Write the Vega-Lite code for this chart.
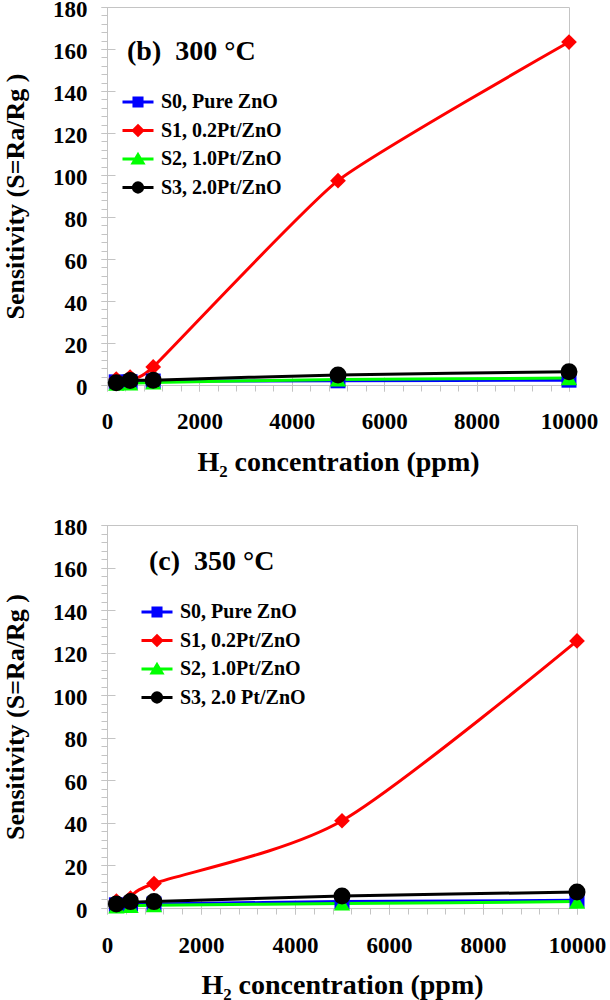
{
  "$schema": "https://vega.github.io/schema/vega-lite/v6.json",
  "padding": {"left": 2, "top": -3, "right": 0, "bottom": 0},
  "background": "white",
  "config": {
    "view": {"stroke": "#c4c4c4", "strokeWidth": 1},
    "font": "Liberation Serif",
    "axis": {
      "grid": false,
      "labelFont": "Liberation Serif",
      "labelFontSize": 23,
      "labelFontWeight": "bold",
      "labelColor": "black",
      "titleFont": "Liberation Serif",
      "titleFontWeight": "bold",
      "titleColor": "black",
      "domainColor": "#c4c4c4",
      "tickColor": "#c4c4c4",
      "labelFlush": false,
      "labelOverlap": false
    },
    "axisLeft": {"labelOffset": 2},
    "legend": {
      "orient": "none",
      "title": null,
      "labelFont": "Liberation Serif",
      "labelFontSize": 20,
      "labelFontWeight": "bold",
      "labelColor": "black",
      "labelLimit": 300,
      "labelOffset": 6,
      "symbolSize": 961,
      "symbolStrokeWidth": 3,
      "rowPadding": 0.5
    }
  },
  "datasets": {
    "b": [
      {"ppm": 200, "S": 1.5, "series": "S0, Pure ZnO"},
      {"ppm": 500, "S": 1.5, "series": "S0, Pure ZnO"},
      {"ppm": 1000, "S": 1.9, "series": "S0, Pure ZnO"},
      {"ppm": 5000, "S": 2.0, "series": "S0, Pure ZnO"},
      {"ppm": 10000, "S": 2.3, "series": "S0, Pure ZnO"},
      {"ppm": 200, "S": 2.8, "series": "S1, 0.2Pt/ZnO"},
      {"ppm": 500, "S": 3.8, "series": "S1, 0.2Pt/ZnO"},
      {"ppm": 1000, "S": 8.6, "series": "S1, 0.2Pt/ZnO"},
      {"ppm": 5000, "S": 97.3, "series": "S1, 0.2Pt/ZnO"},
      {"ppm": 10000, "S": 163.3, "series": "S1, 0.2Pt/ZnO"},
      {"ppm": 200, "S": 0.6, "series": "S2, 1.0Pt/ZnO"},
      {"ppm": 500, "S": 0.8, "series": "S2, 1.0Pt/ZnO"},
      {"ppm": 1000, "S": 1.2, "series": "S2, 1.0Pt/ZnO"},
      {"ppm": 5000, "S": 2.6, "series": "S2, 1.0Pt/ZnO"},
      {"ppm": 10000, "S": 3.3, "series": "S2, 1.0Pt/ZnO"},
      {"ppm": 200, "S": 1.1, "series": "S3, 2.0Pt/ZnO"},
      {"ppm": 500, "S": 2.2, "series": "S3, 2.0Pt/ZnO"},
      {"ppm": 1000, "S": 2.3, "series": "S3, 2.0Pt/ZnO"},
      {"ppm": 5000, "S": 4.8, "series": "S3, 2.0Pt/ZnO"},
      {"ppm": 10000, "S": 6.3, "series": "S3, 2.0Pt/ZnO"}
    ],
    "c": [
      {"ppm": 200, "S": 1.5, "series": "S0, Pure ZnO"},
      {"ppm": 500, "S": 1.8, "series": "S0, Pure ZnO"},
      {"ppm": 1000, "S": 1.9, "series": "S0, Pure ZnO"},
      {"ppm": 5000, "S": 3.0, "series": "S0, Pure ZnO"},
      {"ppm": 10000, "S": 3.6, "series": "S0, Pure ZnO"},
      {"ppm": 200, "S": 3.3, "series": "S1, 0.2Pt/ZnO"},
      {"ppm": 500, "S": 4.7, "series": "S1, 0.2Pt/ZnO"},
      {"ppm": 1000, "S": 11.5, "series": "S1, 0.2Pt/ZnO"},
      {"ppm": 5000, "S": 41.0, "series": "S1, 0.2Pt/ZnO"},
      {"ppm": 10000, "S": 125.5, "series": "S1, 0.2Pt/ZnO"},
      {"ppm": 200, "S": 0.8, "series": "S2, 1.0Pt/ZnO"},
      {"ppm": 500, "S": 1.0, "series": "S2, 1.0Pt/ZnO"},
      {"ppm": 1000, "S": 1.3, "series": "S2, 1.0Pt/ZnO"},
      {"ppm": 5000, "S": 2.1, "series": "S2, 1.0Pt/ZnO"},
      {"ppm": 10000, "S": 3.0, "series": "S2, 1.0Pt/ZnO"},
      {"ppm": 200, "S": 1.9, "series": "S3, 2.0 Pt/ZnO"},
      {"ppm": 500, "S": 3.0, "series": "S3, 2.0 Pt/ZnO"},
      {"ppm": 1000, "S": 3.0, "series": "S3, 2.0 Pt/ZnO"},
      {"ppm": 5000, "S": 5.6, "series": "S3, 2.0 Pt/ZnO"},
      {"ppm": 10000, "S": 7.5, "series": "S3, 2.0 Pt/ZnO"}
    ]
  },
  "spacing": 38,
  "resolve": {
    "scale": {"color": "independent", "shape": "independent", "size": "independent"},
    "legend": {"color": "independent", "shape": "independent", "size": "independent"}
  },
  "vconcat": [
    {
      "width": 462,
      "height": 378,
      "data": {"name": "b"},
      "resolve": {"axis": {"x": "independent", "y": "independent"}},
      "layer": [
        {
          "mark": {"type": "line", "strokeWidth": 3, "interpolate": "cardinal", "tension": 0.5},
          "encoding": {
            "x": {
              "field": "ppm",
              "type": "quantitative",
              "scale": {"domain": [0, 10000], "nice": false},
              "axis": {
                "orient": "bottom",
                "values": [0, 2000, 4000, 6000, 8000, 10000],
                "format": "d",
                "offset": -8,
                "tickSize": 14,
                "domain": false,
                "labelPadding": 19,
                "title": "H₂ concentration (ppm)",
                "titleFontSize": 28,
                "titlePadding": 15
              }
            },
            "y": {
              "field": "S",
              "type": "quantitative",
              "scale": {"domain": [0, 180], "nice": false},
              "axis": {
                "orient": "left",
                "values": [0, 20, 40, 60, 80, 100, 120, 140, 160, 180],
                "format": "d",
                "offset": -8,
                "tickSize": 14,
                "domain": false,
                "labelPadding": 14,
                "title": "Sensitivity (S=Ra/Rg )",
                "titleFontSize": 26,
                "titlePadding": 24
              }
            },
            "color": {
              "field": "series",
              "type": "nominal",
              "scale": {
                "domain": ["S0, Pure ZnO", "S1, 0.2Pt/ZnO", "S2, 1.0Pt/ZnO", "S3, 2.0Pt/ZnO"],
                "range": ["#0000ff", "#ff0000", "#00ff00", "#000000"]
              },
              "legend": {
                "legendX": 14,
                "legendY": 78,
                "encode": {
                  "symbols": {
                    "update": {
                      "shape": {"signal": "['M-1,0H1M-0.26,-0.26H0.26V0.26H-0.26Z','M-1,0H1M0,-0.3L0.3,0L0,0.3L-0.3,0Z','M-1,0H1M0,-0.28L0.32,0.26L-0.32,0.26Z','M-1,0H1M0.3,0A0.3,0.3,0,1,1,-0.3,0A0.3,0.3,0,1,1,0.3,0Z'][datum.index]"},
                      "fill": {"signal": "['#0000ff','#ff0000','#00ff00','#000000'][datum.index]"},
                      "stroke": {"signal": "['#0000ff','#ff0000','#00ff00','#000000'][datum.index]"}
                    }
                  }
                }
              }
            }
          }
        },
        {
          "mark": {"type": "point", "filled": true, "opacity": 1},
          "encoding": {
            "x": {
              "field": "ppm",
              "type": "quantitative",
              "axis": {
                "orient": "bottom",
                "values": [0, 400, 800, 1200, 1600, 2000, 2400, 2800, 3200, 3600, 4000, 4400, 4800, 5200, 5600, 6000, 6400, 6800, 7200, 7600, 8000, 8400, 8800, 9200, 9600, 10000],
                "tickSize": 6,
                "labels": false,
                "title": null,
                "domain": true
              }
            },
            "y": {
              "field": "S",
              "type": "quantitative",
              "axis": {
                "orient": "left",
                "values": [0, 4, 8, 12, 16, 20, 24, 28, 32, 36, 40, 44, 48, 52, 56, 60, 64, 68, 72, 76, 80, 84, 88, 92, 96, 100, 104, 108, 112, 116, 120, 124, 128, 132, 136, 140, 144, 148, 152, 156, 160, 164, 168, 172, 176, 180],
                "tickSize": 6,
                "labels": false,
                "title": null,
                "domain": true
              }
            },
            "color": {"field": "series", "type": "nominal"},
            "shape": {
              "field": "series",
              "type": "nominal",
              "scale": {"range": ["square", "diamond", "triangle-up", "circle"]},
              "legend": null
            },
            "size": {
              "field": "series",
              "type": "nominal",
              "scale": {"range": [225, 289, 256, 177]},
              "legend": null
            }
          }
        },
        {
          "data": {"values": [{}]},
          "mark": {"type": "text", "text": "(b)\u00a0 300 °C", "font": "Liberation Serif", "fontSize": 28, "fontWeight": "bold", "align": "left", "baseline": "middle", "color": "black"},
          "encoding": {
            "x": {"datum": 433, "type": "quantitative", "axis": null},
            "y": {"datum": 158.6, "type": "quantitative", "axis": null}
          }
        }
      ]
    },
    {
      "width": 470,
      "height": 383,
      "data": {"name": "c"},
      "resolve": {"axis": {"x": "independent", "y": "independent"}},
      "layer": [
        {
          "mark": {"type": "line", "strokeWidth": 3, "interpolate": "cardinal", "tension": 0.2},
          "encoding": {
            "x": {
              "field": "ppm",
              "type": "quantitative",
              "scale": {"domain": [0, 10000], "nice": false},
              "axis": {
                "orient": "bottom",
                "values": [0, 2000, 4000, 6000, 8000, 10000],
                "format": "d",
                "offset": -8,
                "tickSize": 14,
                "domain": false,
                "labelPadding": 20,
                "title": "H₂ concentration (ppm)",
                "titleFontSize": 28,
                "titlePadding": 14
              }
            },
            "y": {
              "field": "S",
              "type": "quantitative",
              "scale": {"domain": [0, 180], "nice": false},
              "axis": {
                "orient": "left",
                "values": [0, 20, 40, 60, 80, 100, 120, 140, 160, 180],
                "format": "d",
                "offset": -8,
                "tickSize": 14,
                "domain": false,
                "labelPadding": 14,
                "title": "Sensitivity (S=Ra/Rg )",
                "titleFontSize": 26,
                "titlePadding": 24
              }
            },
            "color": {
              "field": "series",
              "type": "nominal",
              "scale": {
                "domain": ["S0, Pure ZnO", "S1, 0.2Pt/ZnO", "S2, 1.0Pt/ZnO", "S3, 2.0 Pt/ZnO"],
                "range": ["#0000ff", "#ff0000", "#00ff00", "#000000"]
              },
              "legend": {
                "legendX": 33,
                "legendY": 70,
                "encode": {
                  "symbols": {
                    "update": {
                      "shape": {"signal": "['M-1,0H1M-0.26,-0.26H0.26V0.26H-0.26Z','M-1,0H1M0,-0.3L0.3,0L0,0.3L-0.3,0Z','M-1,0H1M0,-0.28L0.32,0.26L-0.32,0.26Z','M-1,0H1M0.3,0A0.3,0.3,0,1,1,-0.3,0A0.3,0.3,0,1,1,0.3,0Z'][datum.index]"},
                      "fill": {"signal": "['#0000ff','#ff0000','#00ff00','#000000'][datum.index]"},
                      "stroke": {"signal": "['#0000ff','#ff0000','#00ff00','#000000'][datum.index]"}
                    }
                  }
                }
              }
            }
          }
        },
        {
          "mark": {"type": "point", "filled": true, "opacity": 1},
          "encoding": {
            "x": {
              "field": "ppm",
              "type": "quantitative",
              "axis": {
                "orient": "bottom",
                "values": [0, 400, 800, 1200, 1600, 2000, 2400, 2800, 3200, 3600, 4000, 4400, 4800, 5200, 5600, 6000, 6400, 6800, 7200, 7600, 8000, 8400, 8800, 9200, 9600, 10000],
                "tickSize": 6,
                "labels": false,
                "title": null,
                "domain": true
              }
            },
            "y": {
              "field": "S",
              "type": "quantitative",
              "axis": {
                "orient": "left",
                "values": [0, 4, 8, 12, 16, 20, 24, 28, 32, 36, 40, 44, 48, 52, 56, 60, 64, 68, 72, 76, 80, 84, 88, 92, 96, 100, 104, 108, 112, 116, 120, 124, 128, 132, 136, 140, 144, 148, 152, 156, 160, 164, 168, 172, 176, 180],
                "tickSize": 6,
                "labels": false,
                "title": null,
                "domain": true
              }
            },
            "color": {"field": "series", "type": "nominal"},
            "shape": {
              "field": "series",
              "type": "nominal",
              "scale": {"range": ["square", "diamond", "triangle-up", "circle"]},
              "legend": null
            },
            "size": {
              "field": "series",
              "type": "nominal",
              "scale": {"range": [225, 289, 256, 177]},
              "legend": null
            }
          }
        },
        {
          "data": {"values": [{}]},
          "mark": {"type": "text", "text": "(c)\u00a0 350 °C", "font": "Liberation Serif", "fontSize": 28, "fontWeight": "bold", "align": "left", "baseline": "middle", "color": "black"},
          "encoding": {
            "x": {"datum": 894, "type": "quantitative", "axis": null},
            "y": {"datum": 162.4, "type": "quantitative", "axis": null}
          }
        }
      ]
    }
  ]
}
